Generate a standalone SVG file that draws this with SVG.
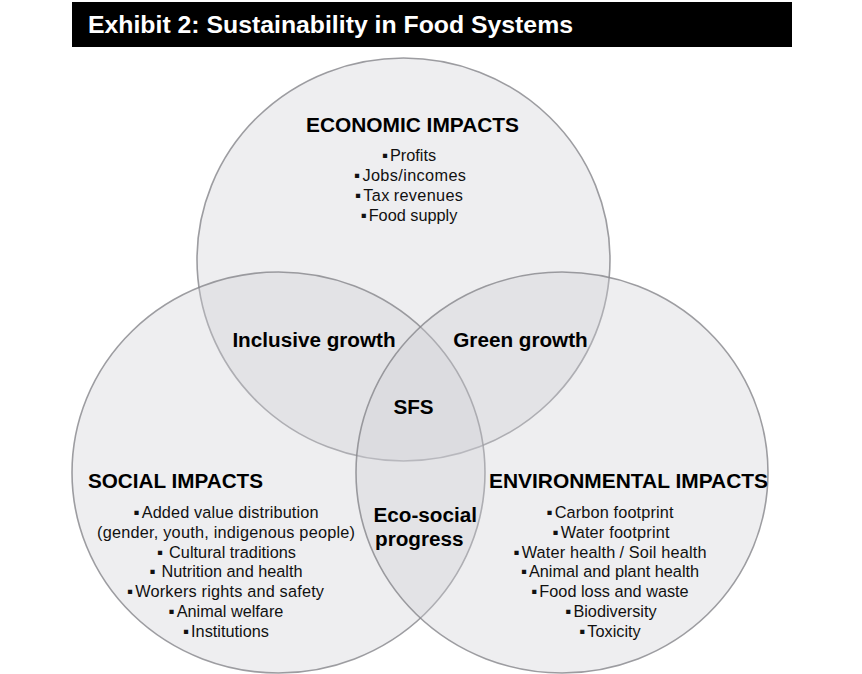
<svg xmlns="http://www.w3.org/2000/svg" width="862" height="674" viewBox="0 0 862 674">
  <style>
    .circ { fill: rgb(206,206,212); fill-opacity: 0.35; stroke: #86868b; stroke-opacity: 0.8; stroke-width: 1.6; }
    .head { font-family: "Liberation Sans", Arial, sans-serif; font-weight: bold; font-size: 20.5px; fill: #000; }
    .lab { font-family: "Liberation Sans", Arial, sans-serif; font-weight: bold; font-size: 20.7px; fill: #000; }
    .item { font-family: "Liberation Sans", Arial, "DejaVu Sans", sans-serif; font-size: 16.3px; fill: #111; text-anchor: middle; }
    .b { font-size: 17px; }
    .title { font-family: "Liberation Sans", Arial, sans-serif; font-weight: bold; font-size: 24.5px; fill: #fff; }
  </style>
  <rect x="0" y="0" width="862" height="674" fill="#fff"/>
  <g id="title">
    <rect x="72" y="2" width="720" height="45" fill="#000"/>
    <text class="title" x="88" y="33" textLength="485" lengthAdjust="spacingAndGlyphs">Exhibit 2: Sustainability in Food Systems</text>
  </g>
  <g id="connectors"></g>
  <g id="node-economic">
    <ellipse class="circ" cx="403.5" cy="259.5" rx="206.5" ry="201.5"/>
    <text class="head" x="412.5" y="131.5" text-anchor="middle" textLength="213" lengthAdjust="spacingAndGlyphs">ECONOMIC IMPACTS</text>
    <text class="item" x="409" y="160.5"><tspan class="b">▪</tspan><tspan dx="2">Profits</tspan></text>
    <text class="item" x="410" y="180.5" textLength="112" lengthAdjust="spacing"><tspan class="b">▪</tspan><tspan dx="2">Jobs/incomes</tspan></text>
    <text class="item" x="409" y="200.5" textLength="108" lengthAdjust="spacing"><tspan class="b">▪</tspan><tspan dx="2">Tax</tspan><tspan dx="4">revenues</tspan></text>
    <text class="item" x="409" y="220.5"><tspan class="b">▪</tspan><tspan dx="2">Food supply</tspan></text>
  </g>
  <g id="node-social">
    <ellipse class="circ" cx="278.5" cy="472.5" rx="206.5" ry="200.5"/>
    <text class="head" x="88" y="488" textLength="175" lengthAdjust="spacingAndGlyphs">SOCIAL IMPACTS</text>
    <text class="item" x="226" y="518" textLength="185" lengthAdjust="spacing"><tspan class="b">▪</tspan><tspan dx="2">Added value distribution</tspan></text>
    <text class="item" x="226" y="537.8" textLength="258" lengthAdjust="spacing">(gender, youth, indigenous people)</text>
    <text class="item" x="226.5" y="557.6" textLength="139" lengthAdjust="spacing"><tspan class="b">▪</tspan><tspan dx="6">Cultural traditions</tspan></text>
    <text class="item" x="226" y="577.4" textLength="153" lengthAdjust="spacing"><tspan class="b">▪</tspan><tspan dx="6">Nutrition and health</tspan></text>
    <text class="item" x="225.5" y="597.2" textLength="197" lengthAdjust="spacing"><tspan class="b">▪</tspan><tspan dx="2">Workers rights and safety</tspan></text>
    <text class="item" x="226" y="617"><tspan class="b">▪</tspan><tspan dx="2">Animal welfare</tspan></text>
    <text class="item" x="226" y="636.8"><tspan class="b">▪</tspan><tspan dx="2">Institutions</tspan></text>
  </g>
  <g id="node-environmental">
    <ellipse class="circ" cx="562" cy="472.5" rx="206" ry="200.5"/>
    <text class="head" x="489" y="488" textLength="279" lengthAdjust="spacingAndGlyphs">ENVIRONMENTAL  IMPACTS</text>
    <text class="item" x="610" y="518" textLength="127" lengthAdjust="spacing"><tspan class="b">▪</tspan><tspan dx="2">Carbon footprint</tspan></text>
    <text class="item" x="611" y="537.8" textLength="117" lengthAdjust="spacing"><tspan class="b">▪</tspan><tspan dx="2">Water footprint</tspan></text>
    <text class="item" x="610" y="557.6" textLength="193" lengthAdjust="spacing"><tspan class="b">▪</tspan><tspan dx="2">Water health</tspan><tspan dx="4">/ Soil health</tspan></text>
    <text class="item" x="610" y="577.4"><tspan class="b">▪</tspan><tspan dx="2">Animal and plant health</tspan></text>
    <text class="item" x="610" y="597.2"><tspan class="b">▪</tspan><tspan dx="2">Food loss and waste</tspan></text>
    <text class="item" x="611" y="617"><tspan class="b">▪</tspan><tspan dx="2">Biodiversity</tspan></text>
    <text class="item" x="610" y="636.8"><tspan class="b">▪</tspan><tspan dx="2">Toxicity</tspan></text>
  </g>
  <g id="overlaps">
    <text id="inclusive-growth" class="lab" x="314" y="347" text-anchor="middle">Inclusive growth</text>
    <text id="green-growth" class="lab" x="520.5" y="347" text-anchor="middle">Green growth</text>
    <text id="sfs" class="lab" x="413.5" y="413.5" text-anchor="middle">SFS</text>
    <text id="eco-social" class="lab" x="373.5" y="521.5">Eco-social<tspan x="375" y="546">progress</tspan></text>
  </g>
</svg>
